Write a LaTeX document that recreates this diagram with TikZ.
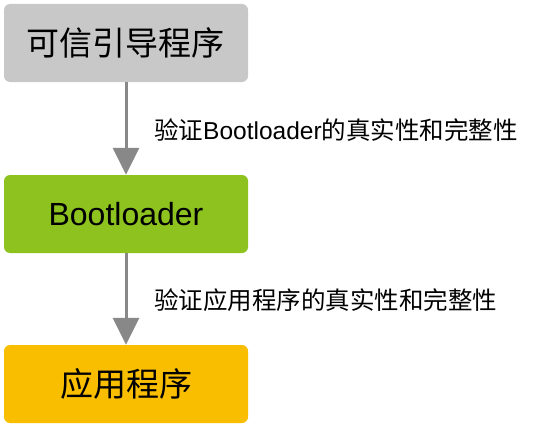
\documentclass[tikz,border=0pt]{standalone}
\usepackage{fontspec}
\setmainfont{Liberation Sans}
\newfontfamily\cjk{Noto Sans CJK SC}
\usepackage{tikz}
\usetikzlibrary{arrows.meta, positioning, calc}
\definecolor{bootgray}{RGB}{200,200,200}
\definecolor{bootgreen}{RGB}{141,194,31}
\definecolor{bootorange}{RGB}{250,190,0}
\definecolor{arrowgray}{RGB}{136,136,136}

\begin{document}
\begin{tikzpicture}[
	  x=1pt, y=-1pt,
	  stage/.style={
	  	rectangle,
	  	minimum width=244pt,
	  	minimum height=78pt,
	  	rounded corners=6pt,
	  	align=center,
	  	inner sep=0pt,
	  	font=\fontsize{33}{36}\selectfont\cjk
	  },
	  verify/.style={
		  draw=arrowgray,
		  line width=3pt,
		  -{Triangle[width=26pt,length=27pt]}
	  },
	  note/.style={
		  anchor=west,
		  inner sep=0pt,
		  font=\fontsize{24.5}{28}\selectfont\cjk
	  }]
	\useasboundingbox (0,0) rectangle (538,428);
	% Stages
	\node[stage, fill=bootgray] (trusted) at (126,43) {可信引导程序};
	\node[stage, fill=bootgreen, font=\fontsize{32}{34}\selectfont] (loader) at (126,214) {Bootloader};
	\node[stage, fill=bootorange] (app) at (126,384) {应用程序};
	% Checks
	\draw[verify] (trusted) -- (loader);
	\draw[verify] (loader) -- (app);
	\node[note] (checkloader) at (154,130) {验证\fontspec{Liberation Sans}Bootloader\cjk 的真实性和完整性};
	\node[note] (checkapp) at (154,300) {验证应用程序的真实性和完整性};
\end{tikzpicture}
\end{document}
